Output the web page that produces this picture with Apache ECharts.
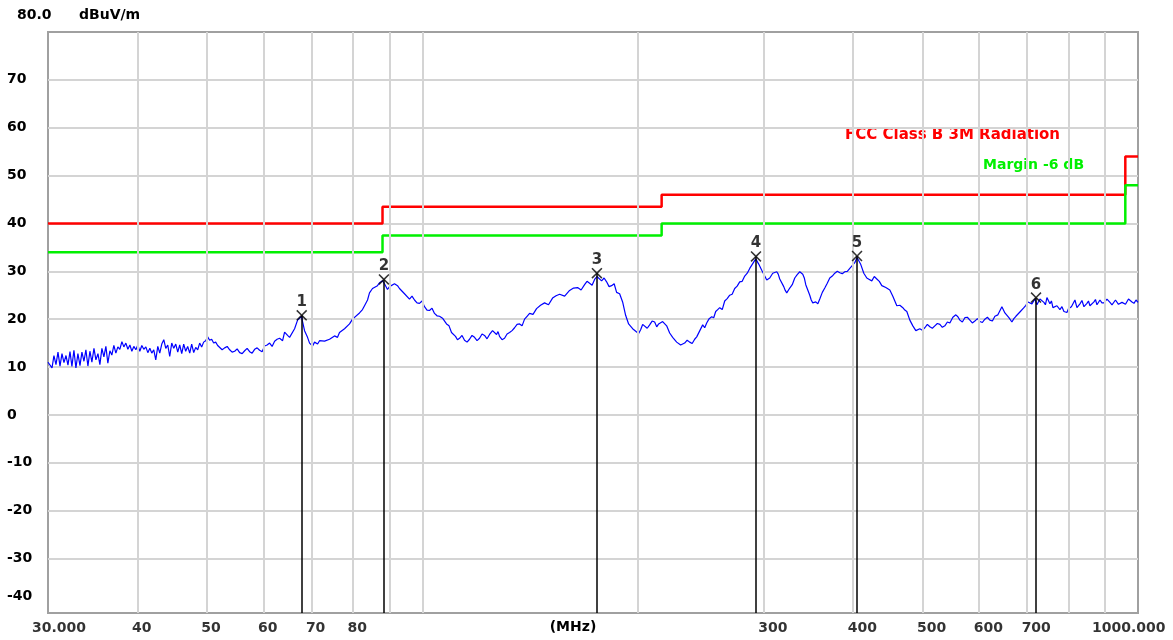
<!DOCTYPE html>
<html><head><meta charset="utf-8">
<script src="https://cdn.jsdelivr.net/npm/echarts@6/dist/echarts.min.js"></script>
<style>html,body{margin:0;padding:0;background:#fff}#c{width:1173px;height:640px}</style>
</head><body><div id="c"></div>
<script>
// ---- data ----
const traceFreq = [
30.00,30.19,30.39,30.58,30.78,30.98,31.18,31.38,31.58,31.79,31.99,32.20,32.40,32.61,32.82,33.03,33.25,33.46,33.68,33.89,
34.11,34.33,34.55,34.78,35.00,35.23,35.45,35.68,35.91,36.14,36.37,36.61,36.84,37.08,37.32,37.56,37.80,38.05,38.29,38.54,
38.79,39.04,39.29,39.54,39.80,40.05,40.31,40.57,40.83,41.10,41.36,41.63,41.89,42.16,42.43,42.71,42.98,43.26,43.54,43.82,
44.10,44.38,44.67,44.96,45.25,45.54,45.83,46.13,46.42,46.72,47.02,47.33,47.63,47.94,48.25,48.56,48.87,49.18,49.50,49.82,
50.14,50.46,50.79,51.12,51.45,51.78,52.11,52.96,53.82,54.69,55.58,56.48,57.39,58.32,59.26,60.22,61.20,62.19,63.20,63.81,
64.22,64.84,65.26,65.68,66.32,66.96,67.86,68.04,68.48,69.14,69.59,70.27,70.72,71.41,71.86,73.03,74.21,75.41,76.14,76.63,
77.88,79.14,79.91,80.42,81.72,82.51,83.05,83.86,84.39,85.21,85.76,86.59,87.15,88.00,88.56,89.42,90.00,91.46,92.35,92.94,
94.45,95.98,97.54,99.12,100.73,102.36,104.02,105.71,106.74,108.12,109.87,111.29,112.74,114.57,116.43,118.32,120.24,122.19,124.17,125.37,
127.00,128.23,130.31,132.43,134.58,136.76,138.98,141.23,144.45,148.22,152.08,155.55,160.64,164.83,168.58,171.32,174.10,175.40,178.07,180.96,
183.89,186.87,188.69,190.52,192.37,194.23,196.76,199.31,201.89,204.51,207.83,211.20,213.94,216.71,219.52,221.65,223.80,226.70,229.64,232.62,
236.39,240.22,243.34,246.50,249.69,253.75,257.03,260.37,264.59,268.88,273.24,277.68,282.19,286.77,289.55,292.36,295.19,298.06,300.96,302.89,
305.84,308.81,312.80,315.84,319.93,323.03,326.18,331.47,336.85,340.12,343.42,347.87,351.24,354.65,359.25,365.08,371.00,377.02,383.14,389.36,
395.67,402.09,405.00,409.94,413.92,417.92,424.71,431.60,438.60,444.28,450.05,454.42,460.30,469.28,475.35,479.98,484.64,489.33,495.68,503.72,
511.90,520.20,528.64,537.22,545.94,551.24,556.58,563.80,572.95,582.24,591.69,601.29,611.05,620.96,631.04,637.15,645.42,651.69,660.12,666.53,
675.17,683.93,692.79,701.76,710.86,717.76,720.30,722.38,729.41,738.86,746.02,753.27,760.58,770.42,777.92,788.00,795.63,803.37,811.16,821.66,
829.65,840.40,848.54,856.80,867.90,876.31,884.83,896.30,904.98,913.79,925.63,934.60,943.68,955.91,965.17,974.56,987.19,1000
];
const traceLevel = [
11.0,10.6,9.8,12.4,10.5,13.1,10.2,12.8,10.9,12.4,10.4,13.2,10.1,13.5,9.8,12.8,10.3,13.1,11.2,13.6,
10.2,13.3,11.0,13.9,11.5,12.8,10.5,13.9,12.1,14.3,10.8,13.4,12.5,14.5,12.9,14.2,13.7,15.3,14.2,15.0,
13.7,14.6,13.3,14.3,13.6,14.6,13.3,14.5,13.7,14.2,13.0,13.9,12.9,13.6,11.5,14.3,12.9,14.8,15.7,13.9,
14.6,12.2,15.0,13.9,14.8,13.1,14.6,12.8,14.8,13.3,14.3,12.9,14.8,13.0,14.1,13.6,15.0,14.2,15.2,15.5,
16.3,15.6,15.8,15.0,15.2,14.5,14.3,14.0,13.6,13.3,13.0,13.4,13.2,13.7,13.5,14.4,15.0,15.4,16.0,15.5,
17.3,16.6,16.2,16.0,18.0,19.8,20.6,19.5,17.6,16.2,15.0,14.4,15.2,14.8,15.5,15.4,15.8,16.5,16.2,17.2,
18.0,19.0,20.0,20.4,21.3,22.0,22.8,24.0,25.5,26.4,26.2,27.0,27.6,28.0,27.4,26.2,26.8,27.4,27.0,26.4,
25.3,24.2,24.0,23.3,22.6,21.8,21.2,20.6,20.2,19.0,17.2,16.4,16.0,15.6,15.8,16.2,16.0,16.6,16.8,17.6,
16.8,16.4,16.0,17.2,18.2,19.0,20.0,21.2,22.2,23.4,24.4,25.2,26.0,26.6,27.2,27.5,28.3,28.9,28.0,27.8,
27.0,25.6,25.3,23.6,20.8,19.0,18.0,17.3,17.8,18.5,18.8,19.4,19.0,19.5,18.6,17.1,16.2,15.2,14.6,15.0,
15.2,15.8,16.0,18.8,19.2,20.5,21.6,22.4,23.8,25.0,26.4,27.8,29.0,30.6,31.6,32.6,31.5,30.2,29.0,28.2,
28.6,29.6,29.9,28.4,26.8,25.5,26.5,28.6,29.9,29.4,27.2,25.0,23.4,23.6,24.2,26.5,28.6,29.6,29.7,29.9,
30.6,31.8,32.9,31.4,29.6,28.6,28.0,28.4,27.0,26.6,26.1,24.8,22.8,22.4,21.6,19.8,18.6,17.6,18.0,18.2,
18.4,18.6,18.9,18.6,19.2,20.4,20.9,19.8,20.3,19.8,19.6,19.5,20.0,19.8,20.6,20.9,22.6,21.3,20.3,19.4,
20.6,21.5,22.4,23.6,23.2,24.2,24.3,23.0,24.2,23.5,24.5,23.2,22.4,22.8,22.0,21.6,21.4,22.0,23.0,22.4,
23.2,22.6,23.3,22.8,23.6,23.0,24.0,23.4,24.2,23.5,23.2,23.6,23.3,23.8,23.4,23.8,23.3,23.5
];
// extra read points (fine ripple of the trace between the main samples)
const rippleFreq = [
52.53,53.39,54.25,55.13,56.03,56.93,57.85,58.79,59.74,60.71,61.69,62.69,
96.76,98.33,99.92,101.54,103.19,104.86,109.0,112.0,113.65,115.5,117.37,119.28,121.21,123.18,
127.6,129.27,131.37,133.5,135.67,137.87,140.1,142.8,146.3,150.1,153.8,158.1,162.7,166.7,169.9,172.7,
179.5,182.4,185.4,
200.6,203.2,206.2,209.5,212.6,218.1,225.2,231.1,234.5,238.3,241.8,248.1,251.7,255.4,258.7,262.5,266.7,271.0,275.4,279.9,284.5,
307.3,314.3,321.5,328.8,334.1,341.8,349.5,357.0,362.2,368.0,374.0,380.1,386.2,392.5,
421.3,428.1,435.1,447.1,464.8,472.3,499.7,507.8,516.0,524.4,532.9,541.6,560.2,568.3,577.6,586.9,596.5,606.1,616.0,626.0,
670.8,679.5,688.3,697.2,734.1,742.4,756.9,774.1,783.0,791.8,799.5,807.2,816.4,825.6,835.0,844.5,852.7,862.3,872.1,880.6,
890.5,900.6,909.4,919.7,930.1,939.1,949.8,960.5,969.9,980.8,993.6
];
const rippleLevel = [
13.6,14.3,13.1,13.8,12.8,13.9,12.9,14.0,13.2,14.6,14.3,15.8,
24.8,23.4,23.8,21.9,22.3,20.7,18.6,15.7,16.6,15.2,16.6,15.5,16.9,15.9,
17.4,15.7,16.9,17.6,18.9,18.6,20.6,21.0,22.9,23.0,24.9,24.8,26.5,26.1,27.9,27.1,
28.6,26.8,27.4,
17.0,18.9,18.1,19.6,18.4,19.8,16.4,14.3,15.6,14.9,16.3,18.2,20.1,20.3,22.0,22.0,24.3,25.2,26.9,27.9,29.6,
29.0,29.4,26.0,27.2,29.3,28.6,24.0,23.2,25.6,27.5,29.0,30.0,29.5,30.0,
28.3,28.9,27.9,26.9,22.9,21.9,17.7,18.9,18.1,19.1,18.3,19.4,20.5,19.4,20.4,19.2,20.1,19.3,20.4,19.6,
20.1,21.0,21.8,22.9,24.6,23.0,23.8,22.4,22.6,21.6,22.2,22.6,24.0,22.8,23.9,22.4,23.8,22.6,24.1,23.2,
23.4,23.7,24.0,23.0,24.0,23.1,23.5,23.1,24.2,23.6,24.0
];
const limitFreq  = [30, 88, 88, 216, 216, 960, 960, 1000];
const limitLevel = [40, 40, 43.5, 43.5, 46, 46, 54, 54];
const marginFreq  = [30, 88, 88, 216, 216, 960, 960, 1000];
const marginLevel = [34, 34, 37.5, 37.5, 40, 40, 48, 48];
const markerFreq  = [67.86, 88.4, 175.4, 292.6, 405.0, 720.3];
const markerLevel = [20.8, 28.3, 29.6, 33.1, 33.2, 24.5];
const markerName  = ['1', '2', '3', '4', '5', '6'];
const gridFreq   = [40, 50, 60, 70, 80, 90, 100, 200, 300, 400, 500, 600, 700, 800, 900];
const xTickFreq  = [30, 40, 50, 60, 70, 80, 300, 400, 500, 600, 700, 1000];
const xTickText  = ['30.000', '40', '50', '60', '70', '80', '300', '400', '500', '600', '700', '1000.000'];
const yTickValues = [-40, -30, -20, -10, 0, 10, 20, 30, 40, 50, 60, 70];
const yGridValues = [-30, -20, -10, 0, 10, 20, 30, 40, 50, 60, 70];
const yMin = -41.4, yMax = 80;
const limitName = 'FCC Class B 3M Radiation';
const marginName = 'Margin -6 dB';
const unitTop = '80.0', unitName = 'dBuV/m', xUnit = '(MHz)';

// ---- chart ----
const FONT = '"DejaVu Sans", sans-serif';
const pairs = (a, b) => a.map((v, i) => [v, b[i]]);
const traceData = pairs(traceFreq, traceLevel).concat(pairs(rippleFreq, rippleLevel)).sort((p, q) => p[0] - q[0]);
const chart = echarts.init(document.getElementById('c'), null, {renderer: 'canvas'});
const xLabelOffset = (i) => i === 0 ? [-16, 0] : (i === xTickFreq.length - 1 ? [-46, 0] : [-5.5, 0]);
const option = {
  animation: false,
  backgroundColor: '#ffffff',
  grid: {left: 48, right: 35, top: 32, bottom: 27, show: true, borderColor: '#a0a0a0', borderWidth: 2, backgroundColor: '#ffffff'},
  xAxis: {
    type: 'log', logBase: 10, min: 30, max: 1000,
    axisLine: {show: false}, axisTick: {show: false}, axisLabel: {show: false},
    splitLine: {show: false}, minorTick: {show: false}, minorSplitLine: {show: false},
    name: xUnit, nameLocation: 'middle', nameGap: 7,
    nameTextStyle: {fontFamily: FONT, fontWeight: 'bold', fontSize: 14, color: '#000', padding: [0, 40, 0, 0], verticalAlign: 'top'}
  },
  yAxis: {
    type: 'value', min: yMin, max: yMax,
    axisLine: {show: false},
    axisTick: {show: false, customValues: yGridValues},
    axisLabel: {
      customValues: yTickValues, align: 'left', margin: 41,
      fontFamily: FONT, fontWeight: 'bold', fontSize: 14, color: '#000',
      formatter: v => v === -40 ? '{up|-40}' : String(v),
      rich: {up: {fontFamily: FONT, fontWeight: 'bold', fontSize: 14, color: '#000', padding: [0, 0, 20, 0]}}
    },
    splitLine: {show: true, lineStyle: {color: '#d4d4d4', width: 2}}
  },
  graphic: [
    {type: 'text', left: 17, top: 8, style: {text: unitTop, font: 'bold 14px "DejaVu Sans"', fill: '#000'}},
    {type: 'text', left: 79, top: 8, style: {text: unitName, font: 'bold 14px "DejaVu Sans"', fill: '#000'}},
    {type: 'text', left: 845, top: 128, style: {text: limitName, font: 'bold 15px "DejaVu Sans"', fill: '#ff0000'}},
    {type: 'text', left: 983, top: 158, style: {text: marginName, font: 'bold 14px "DejaVu Sans"', fill: '#00f000'}}
  ],
  series: [
    {
      type: 'line', data: [], silent: true, z: 1,
      markLine: {
        silent: true, symbol: ['none', 'none'], label: {show: false}, emphasis: {disabled: true},
        lineStyle: {color: '#d4d4d4', width: 2, type: 'solid'},
        data: gridFreq.map(f => ({xAxis: f}))
      }
    },
    {type: 'line', data: pairs(limitFreq, limitLevel), symbol: 'none', silent: true, z: 3,
     lineStyle: {color: '#ff0000', width: 2.5}},
    {type: 'line', data: pairs(marginFreq, marginLevel), symbol: 'none', silent: true, z: 3,
     lineStyle: {color: '#00f000', width: 2.5}},
    {type: 'line', data: traceData, symbol: 'none', silent: true, z: 4,
     lineStyle: {color: '#0000ff', width: 1.2}},
    {
      type: 'scatter', silent: true, z: 5, clip: false,
      data: markerFreq.map((f, i) => ({value: [f, markerLevel[i]], name: markerName[i]})),
      symbol: 'path://M0,1 L1,0 L5,4 L9,0 L10,1 L6,5 L10,9 L9,10 L5,6 L1,10 L0,9 L4,5 Z',
      symbolSize: 11, itemStyle: {color: '#000'},
      label: {show: true, position: 'top', distance: 0, formatter: '{b}', fontFamily: FONT, fontWeight: 'bold', fontSize: 15, color: '#000'},
      markLine: {
        silent: true, symbol: ['none', 'none'], label: {show: false}, emphasis: {disabled: true},
        lineStyle: {color: '#000', width: 1.5, type: 'solid'},
        data: markerFreq.map((f, i) => [{coord: [f, markerLevel[i]]}, {coord: [f, yMin]}])
      }
    },
    {
      type: 'scatter', silent: true, z: 5, clip: false,
      symbolSize: 1, itemStyle: {color: 'rgba(0,0,0,0)'},
      data: xTickFreq.map((f, i) => ({value: [f, yMin], name: xTickText[i], label: {offset: xLabelOffset(i)}})),
      label: {show: true, position: 'bottom', distance: 8, align: 'left', formatter: '{b}',
              fontFamily: FONT, fontWeight: 'bold', fontSize: 14, color: '#000'}
    }
  ]
};
chart.setOption(option);
</script>
</body></html>
